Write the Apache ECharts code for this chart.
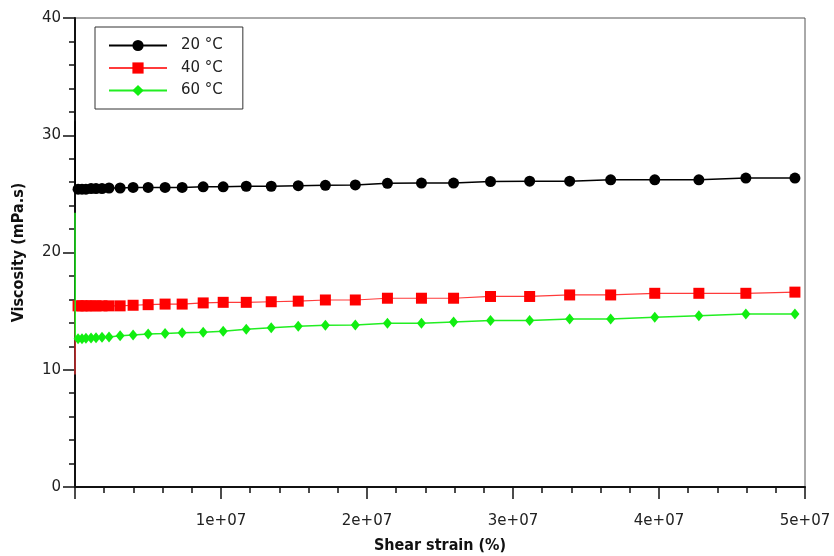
<!DOCTYPE html>
<html>
<head>
<meta charset="utf-8">
<script src="https://cdn.jsdelivr.net/npm/echarts@6/dist/echarts.min.js"></script>
<style>
html,body{margin:0;padding:0;background:#fff;}
#chart{width:834px;height:556px;}
</style>
</head>
<body>
<div id="chart"></div>
<script>
// Shear strain (in units of 1e6 %)
const strainE6 = [0, 0.02, 0.21, 0.48, 0.75, 1.10, 1.44, 1.85, 2.33, 3.09, 3.98, 5.01, 6.17, 7.34, 8.78, 10.15, 11.73, 13.44, 15.29, 17.15, 19.20, 21.40, 23.73, 25.93, 28.46, 31.14, 33.88, 36.69, 39.71, 42.73, 45.95, 49.31];
const visc20 = [31.2, 25.4, 25.4, 25.4, 25.4, 25.45, 25.45, 25.45, 25.5, 25.5, 25.55, 25.55, 25.55, 25.55, 25.6, 25.6, 25.65, 25.65, 25.7, 25.73, 25.76, 25.9, 25.92, 25.92, 26.05, 26.08, 26.08, 26.2, 26.2, 26.2, 26.35, 26.35];
const visc40 = [9.6, 15.45, 15.45, 15.45, 15.45, 15.45, 15.45, 15.45, 15.45, 15.45, 15.5, 15.55, 15.6, 15.6, 15.7, 15.75, 15.75, 15.8, 15.85, 15.95, 15.95, 16.1, 16.1, 16.1, 16.25, 16.25, 16.38, 16.38, 16.52, 16.52, 16.52, 16.62];
const visc60 = [23.4, 12.65, 12.65, 12.65, 12.68, 12.7, 12.72, 12.77, 12.8, 12.9, 12.96, 13.05, 13.1, 13.16, 13.19, 13.28, 13.45, 13.59, 13.7, 13.8, 13.82, 13.96, 13.96, 14.08, 14.2, 14.2, 14.33, 14.33, 14.47, 14.61, 14.75, 14.75];
const seriesNames = ['20 °C', '40 °C', '60 °C'];
const xTickLabels = {10000000: '1e+07', 20000000: '2e+07', 30000000: '3e+07', 40000000: '4e+07', 50000000: '5e+07'};

function build(vals) {
  return strainE6.map((x, i) => i <= 1 ? {value: [x * 1e6, vals[i]], symbol: 'none'} : [x * 1e6, vals[i]]);
}

const font = 'DejaVu Sans';
const chart = echarts.init(document.getElementById('chart'), null, {renderer: 'canvas'});
chart.setOption({
  animation: false,
  backgroundColor: '#fff',
  grid: {left: 75, right: 29, top: 18, bottom: 69, show: true, borderColor: '#555', borderWidth: 1,
    containLabel: false, outerBoundsMode: 'none'},
  legend: {
    orient: 'vertical', left: 95, top: 27,
    padding: [11, 20, 11, 13],
    itemWidth: 58, itemHeight: 14, itemGap: 7.5,
    borderColor: '#333', borderWidth: 1,
    textStyle: {fontFamily: font, fontSize: 15, color: '#222', padding: [0, 0, 0, 9]},
    data: seriesNames
  },
  xAxis: {
    type: 'value', min: 0, max: 5e7, interval: 1e7,
    name: 'Shear strain (%)', nameLocation: 'middle', nameGap: 51,
    nameTextStyle: {fontFamily: 'DejaVu Sans Condensed', fontWeight: 'bold', fontSize: 16, color: '#111'},
    axisLine: {show: true, onZero: false, lineStyle: {color: '#111', width: 2}},
    axisTick: {show: true, inside: false, length: 12, lineStyle: {color: '#111', width: 1.5}},
    minorTick: {show: true, splitNumber: 5, length: 6, lineStyle: {color: '#111', width: 1.5}},
    axisLabel: {fontFamily: font, fontSize: 15, color: '#222', margin: 27,
      formatter: v => xTickLabels[v] || ''},
    splitLine: {show: false}
  },
  yAxis: {
    type: 'value', min: 0, max: 40, interval: 10,
    name: 'Viscosity (mPa.s)', nameLocation: 'middle', nameGap: 48,
    nameTextStyle: {fontFamily: 'DejaVu Sans Condensed', fontWeight: 'bold', fontSize: 16, color: '#111'},
    axisLine: {show: true, onZero: false, lineStyle: {color: '#111', width: 2}},
    axisTick: {show: true, inside: false, length: 12, lineStyle: {color: '#111', width: 1.5}},
    minorTick: {show: true, splitNumber: 5, length: 6, lineStyle: {color: '#111', width: 1.5}},
    axisLabel: {fontFamily: font, fontSize: 15, color: '#222', margin: 14},
    splitLine: {show: false}
  },
  series: [
    {name: seriesNames[0], type: 'line', data: build(visc20), symbol: 'circle', symbolSize: 11,
      itemStyle: {color: '#000'}, lineStyle: {color: '#000', width: 1.5}, z: 3},
    {name: seriesNames[1], type: 'line', data: build(visc40), symbol: 'rect', symbolSize: 11,
      itemStyle: {color: '#ff0000'}, lineStyle: {color: '#ff3b3b', width: 1.2}, z: 2},
    {name: seriesNames[2], type: 'line', data: build(visc60), symbol: 'diamond', symbolSize: [9, 11],
      itemStyle: {color: '#11ee11'}, lineStyle: {color: '#22ee22', width: 1.5}, z: 4}
  ]
});
</script>
</body>
</html>
